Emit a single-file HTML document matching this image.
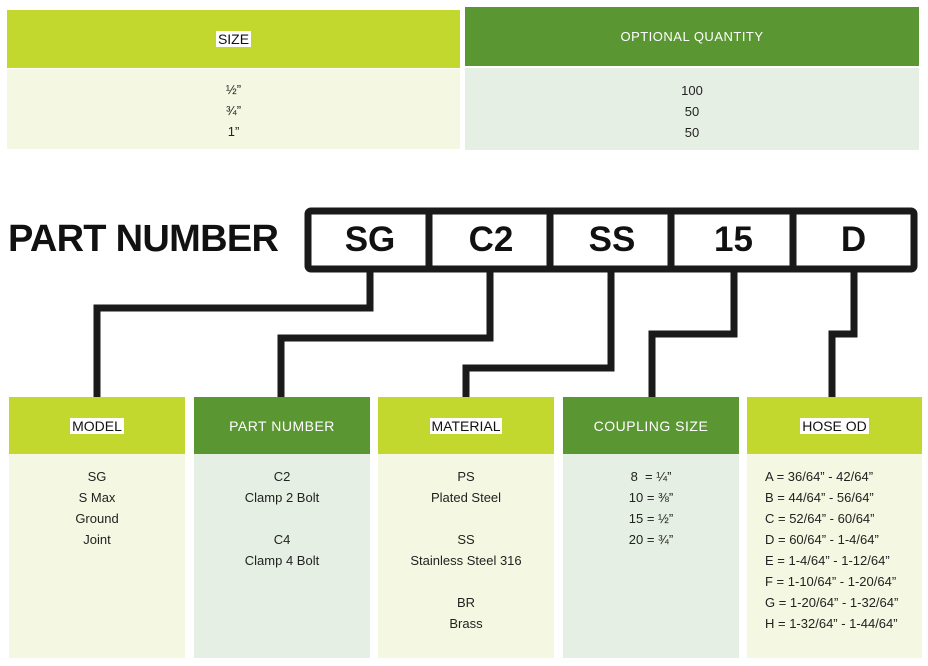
<!DOCTYPE html>
<html><head><meta charset="utf-8"><style>
body{margin:0;width:928px;height:666px;background:#fff;position:relative;overflow:hidden;font-family:"Liberation Sans",sans-serif}
.a{position:absolute;box-sizing:border-box}
.lime{background:#c2d82f}.grn{background:#5a9632}.lb{background:#f4f8e2}.gb{background:#e6efe3}
.h{display:flex;align-items:center;justify-content:center;font-size:14px}
.h span.w{background:#fff;color:#111;padding:0 2px}
.h.wt{color:#fff;letter-spacing:.5px}
.t{text-align:center;color:#222;font-size:13px;line-height:21px}
.bx{position:absolute;top:211px;height:58px;display:flex;align-items:center;justify-content:center;font-weight:bold;font-size:35px;color:#111}
</style></head><body>
<div class="a lime h" style="left:7px;top:10px;width:453px;height:58px"><span class="w">SIZE</span></div>
<div class="a grn h wt" style="left:465px;top:7px;width:454px;height:59px;font-size:13px">OPTIONAL QUANTITY</div>
<div class="a lb t" style="left:7px;top:69px;width:453px;height:80px;padding-top:10px">½”<br>¾”<br>1”</div>
<div class="a gb t" style="left:465px;top:68px;width:454px;height:82px;padding-top:12px">100<br>50<br>50</div>

<div class="a" style="left:8px;top:218px;font-size:38px;font-weight:bold;color:#111;letter-spacing:-0.7px">PART NUMBER</div>

<svg class="a" style="left:0;top:0" width="928" height="666">
<g fill="none" stroke="#1a1a1a" stroke-width="7" stroke-linejoin="miter">
<rect x="308" y="211" width="606" height="58" rx="3"/>
<line x1="429" y1="211" x2="429" y2="269"/><line x1="550" y1="211" x2="550" y2="269"/>
<line x1="671" y1="211" x2="671" y2="269"/><line x1="793" y1="211" x2="793" y2="269"/>
<polyline points="370,269 370,308 97,308 97,397"/>
<polyline points="490,269 490,338 281,338 281,397"/>
<polyline points="611,269 611,368 466,368 466,397"/>
<polyline points="734,269 734,334 652,334 652,397"/>
<polyline points="854,269 854,334 832,334 832,397"/>
</g></svg>
<div class="bx" style="left:311px;width:118px">SG</div>
<div class="bx" style="left:432px;width:118px">C2</div>
<div class="bx" style="left:553px;width:118px">SS</div>
<div class="bx" style="left:674px;width:119px">15</div>
<div class="bx" style="left:796px;width:115px">D</div>

<div class="a lime h" style="left:9px;top:397px;width:176px;height:57px"><span class="w">MODEL</span></div>
<div class="a grn h wt" style="left:194px;top:397px;width:176px;height:57px">PART NUMBER</div>
<div class="a lime h" style="left:378px;top:397px;width:176px;height:57px"><span class="w">MATERIAL</span></div>
<div class="a grn h wt" style="left:563px;top:397px;width:176px;height:57px">COUPLING SIZE</div>
<div class="a lime h" style="left:747px;top:397px;width:175px;height:57px"><span class="w">HOSE OD</span></div>

<div class="a lb t" style="left:9px;top:454px;width:176px;height:204px;padding-top:12px">SG<br>S Max<br>Ground<br>Joint</div>
<div class="a gb t" style="left:194px;top:454px;width:176px;height:204px;padding-top:12px">C2<br>Clamp 2 Bolt<br><br>C4<br>Clamp 4 Bolt</div>
<div class="a lb t" style="left:378px;top:454px;width:176px;height:204px;padding-top:12px">PS<br>Plated Steel<br><br>SS<br>Stainless Steel 316<br><br>BR<br>Brass</div>
<div class="a gb t" style="left:563px;top:454px;width:176px;height:204px;padding-top:12px">8 &nbsp;= ¼”<br>10 = ⅜”<br>15 = ½”<br>20 = ¾”</div>
<div class="a lb t" style="left:747px;top:454px;width:175px;height:204px;padding-top:12px;padding-left:18px;text-align:left">A = 36/64” - 42/64”<br>B = 44/64” - 56/64”<br>C = 52/64” - 60/64”<br>D = 60/64” - 1-4/64”<br>E = 1-4/64” - 1-12/64”<br>F = 1-10/64” - 1-20/64”<br>G = 1-20/64” - 1-32/64”<br>H = 1-32/64” - 1-44/64”</div>
</body></html>
